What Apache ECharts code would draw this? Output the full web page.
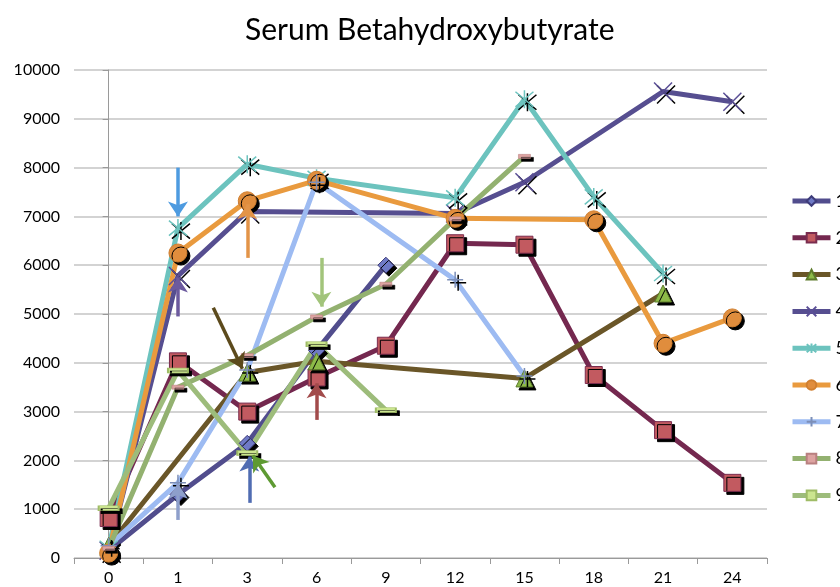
<!DOCTYPE html>
<html>
<head>
<meta charset="utf-8">
<title>Serum Betahydroxybutyrate</title>
<script src="https://cdn.jsdelivr.net/npm/echarts@6/dist/echarts.min.js"></script>
<style>
  html, body { margin: 0; padding: 0; background: #fff; }
  #chart { width: 840px; height: 587px; }
</style>
</head>
<body>
<div id="chart"></div>
<script>
// hours
var categories = ['0', '1', '3', '6', '9', '12', '15', '18', '21', '24']
var seriesNames = ['1', '2', '3', '4', '5', '6', '7', '8', '9']

var s1 = [150, 1300, 2350, 4250, 6000, null, null, null, null, null]
var s2 = [820, 4030, 3000, 3700, 4350, 6450, 6420, 3750, 2620, 1540]
var s3 = [250, null, 3800, 4030, null, null, 3680, null, 5420, null]
var s4 = [150, 5780, 7100, null, null, 7060, 7700, null, 9560, 9350]
var s5 = [200, 6760, 8070, 7780, null, 7380, 9400, 7400, 5830, null]
var s6 = [100, 6250, 7320, 7740, null, 6960, null, 6930, 4400, 4920]
var s7 = [250, 1540, 3850, 7700, null, 5700, 3730, null, null, null]
var s8 = [200, 3500, 4150, 4940, 5610, 6950, 8230, null, null, null]
var s9 = [1020, 3840, 2150, 4380, 3030, null, null, null, null, null]

// hand-drawn arrows: [fromIndex, fromValue, toIndex, toValue]
var arrows = [
  [1, 8000, 1, 7000],
  [2, 6150, 2, 7250],
  [1, 4950, 1, 5750],
  [1.51, 5130, 1.93, 3880],
  [3.07, 6150, 3.07, 5150],
  [3, 2830, 3, 3580],
  [2.03, 1130, 2.03, 2080],
  [2.4, 1450, 2.08, 2100],
  [1, 780, 1, 1520]
]
var arrowColors = ['#4E9BE0', '#E39448', '#6C5A9E', '#5C4A1C', '#A2C47B', '#A24B4B', '#506CB2', '#5E9A32', '#8E9FCB']

var crossPath = 'path://M0,0L10,10M10,0L0,10'
var starPath = 'path://M0,0L10,10M10,0L0,10M5,-1L5,11'
var plusPath = 'path://M5,0L5,10M0,5L10,5'

var shadow = { shadowColor: '#000', shadowBlur: 0, shadowOffsetX: 3, shadowOffsetY: 3 }

function mkLine(name, data, color, symbol, size, item) {
  return {
    name: name,
    type: 'line',
    data: data,
    connectNulls: true,
    symbol: symbol,
    symbolSize: size,
    lineStyle: { color: color, width: 5 },
    itemStyle: Object.assign({ color: color }, shadow, item || {}),
    emphasis: { disabled: true },
    animation: false
  }
}

var chart = echarts.init(document.getElementById('chart'))

var series = [
  mkLine('1', s1, '#514D8D', 'diamond', 16, { color: '#6F7AC6', borderColor: '#3E3C7A', borderWidth: 1 }),
  mkLine('2', s2, '#74284F', 'rect', 17, { color: '#C25A60', borderColor: '#7A2C4E', borderWidth: 1 }),
  mkLine('3', s3, '#6A5628', 'triangle', 17, { color: '#8DBA48', borderColor: '#5C7A2A', borderWidth: 1 }),
  mkLine('4', s4, '#564E90', crossPath, 18, { color: 'transparent', borderColor: '#5A4E96', borderWidth: 1.5 }),
  mkLine('5', s5, '#6CC3BE', starPath, 18, { color: 'transparent', borderColor: '#6CC3BE', borderWidth: 1.5 }),
  mkLine('6', s6, '#E99A3E', 'circle', 18, { color: '#E08D3D', borderColor: '#D07F30', borderWidth: 1 }),
  mkLine('7', s7, '#9DBBF2', plusPath, 16, { color: 'transparent', borderColor: '#7D8FB8', borderWidth: 1.5 }),
  mkLine('8', s8, '#93B170', 'rect', [12, 4], { color: '#DDA3A1', borderColor: '#B98080', borderWidth: 0.5 }),
  mkLine('9', s9, '#9DBC7B', 'rect', [20, 5], { color: '#CBE58F', borderColor: '#9FBC66', borderWidth: 1 })
]

series.push({
  type: 'lines',
  coordinateSystem: 'cartesian2d',
  xAxisIndex: 1,
  yAxisIndex: 0,
  symbol: ['none', 'arrow'],
  symbolSize: 15,
  silent: true,
  z: 5,
  animation: false,
  data: arrows.map(function (a, i) {
    return {
      coords: [[a[0], a[1]], [a[2], a[3]]],
      lineStyle: { color: arrowColors[i], width: 3.5, opacity: 1 }
    }
  })
})

chart.setOption({
  backgroundColor: '#fff',
  textStyle: { fontFamily: 'Lato, "Open Sans", sans-serif' },
  title: {
    text: 'Serum Betahydroxybutyrate',
    left: 240,
    top: 10,
    textStyle: { fontSize: 30, fontWeight: 'normal', color: '#000', fontFamily: 'Lato' }
  },
  legend: {
    orient: 'vertical',
    left: 790,
    top: 192,
    padding: 0,
    itemWidth: 38,
    itemHeight: 12,
    itemGap: 18.8,
    lineStyle: { width: 5 },
    textStyle: { fontSize: 18, color: '#000' },
    data: seriesNames
  },
  grid: { left: 74, right: 73, top: 70, bottom: 29 },
  xAxis: [{
    type: 'category',
    data: categories,
    boundaryGap: true,
    axisLine: { lineStyle: { color: '#9A9A9A', width: 1 } },
    axisTick: { show: true, length: 6, lineStyle: { color: '#9A9A9A' } },
    axisLabel: { fontSize: 16, color: '#000', margin: 12 },
    splitLine: { show: false }
  }, {
    type: 'value',
    min: -0.5,
    max: 9.5,
    show: false,
    splitLine: { show: false }
  }],
  yAxis: {
    type: 'value',
    min: 0,
    max: 10000,
    interval: 1000,
    axisLine: { show: true, lineStyle: { color: '#9A9A9A', width: 1 } },
    axisTick: { show: true, length: 6, lineStyle: { color: '#9A9A9A' } },
    axisLabel: { fontSize: 16, color: '#000', margin: 14, formatter: function (v) { return String(v) } },
    splitLine: { lineStyle: { color: '#C4C4C4', width: 1.5 } }
  },
  series: series
})
</script>
</body>
</html>
